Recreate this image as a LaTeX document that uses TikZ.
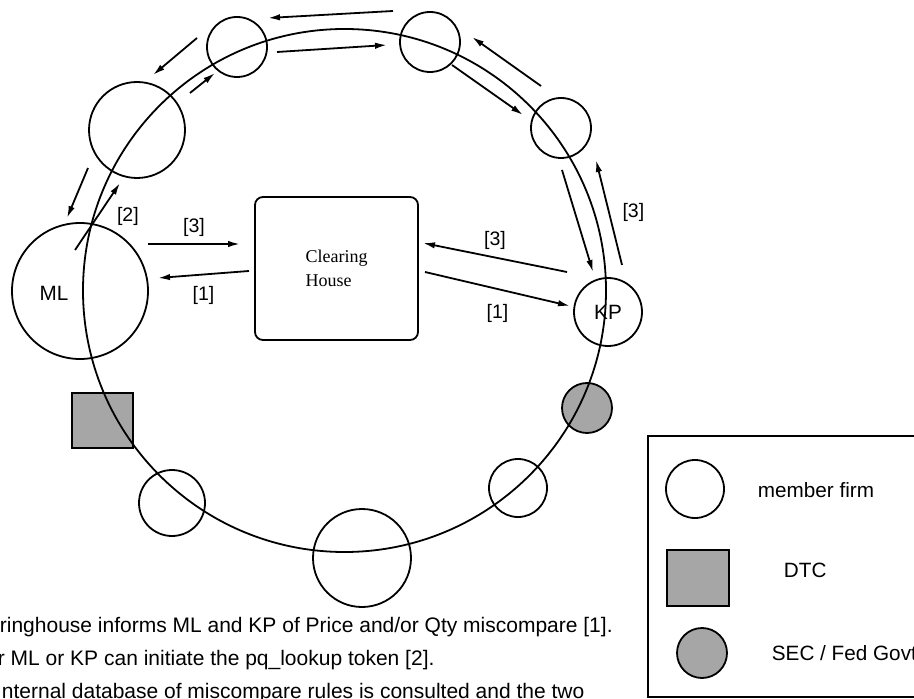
\documentclass[tikz,border=0pt]{standalone}
\usepackage{fontspec}
\setmainfont{Liberation Sans}
\newfontfamily\housefont{Liberation Serif}
\usetikzlibrary{arrows.meta, positioning, calc}

\begin{document}
\begin{tikzpicture}[x=0.5pt, y=-0.5pt, >={Latex[length=6pt, width=3.2pt]}, line width=0.9pt,
        firm/.style={circle, draw, inner sep=0pt},
        govt/.style={circle, draw, fill=black!35, inner sep=0pt},
        depot/.style={rectangle, draw, fill=black!35, inner sep=0pt},
        house/.style={rectangle, draw, rounded corners=4pt, minimum width=81.5pt, minimum height=71.5pt, align=left, font=\housefont\fontsize{9}{12}\selectfont},
        tag/.style={font=\fontsize{9.75}{11}\selectfont},
        note/.style={font=\fontsize{10.35}{12}\selectfont, anchor=base west, inner sep=0pt},
        line/.style={draw, ->}]
    \useasboundingbox (0,0) rectangle (914,699);
    \clip (0,0) rectangle (914,699);

    % shaded members first, the ring runs over them
    \node [depot, minimum width=30.5pt, minimum height=27.5pt] (dtc) at (102.5,420.5) {};
    \node [govt, minimum size=25pt] (sec) at (587,408) {};

    % the token ring
    \draw (344.5,290.5) circle [radius=130.75pt];

    % member firms
    \node [firm, minimum size=68pt, label={[font=\fontsize{10.35}{12}\selectfont, xshift=-13pt, yshift=-1pt]center:ML}] (ML) at (80,291) {};
    \node [firm, minimum size=34pt, font=\fontsize{10.35}{12}\selectfont] (KP) at (608,312) {KP};
    \node [firm, minimum size=30pt] (firmA) at (237,47) {};
    \node [firm, minimum size=30pt] (firmB) at (430,42) {};
    \node [firm, minimum size=48pt] (firmC) at (137,130) {};
    \node [firm, minimum size=30pt] (firmD) at (561,128) {};
    \node [firm, minimum size=29pt] (firmE) at (518,488) {};
    \node [firm, minimum size=49pt] (firmF) at (362,558) {};
    \node [firm, minimum size=33pt] (firmG) at (172,503) {};

    \node [house] (CH) at (336.5,268.5) {Clearing\\House};

    % arrow ends
    \coordinate (mlA) at (148,244);  \coordinate (chA) at (240,244);
    \coordinate (chB) at (249,271);  \coordinate (mlB) at (158,278);
    \coordinate (chC) at (425,272);  \coordinate (kpC) at (570,306);
    \coordinate (kpD) at (567,272);  \coordinate (chD) at (423,243);
    \coordinate (mlE) at (75,250);   \coordinate (upE) at (120,183);
    \coordinate (upF) at (190,93);   \coordinate (upG) at (215,73);
    \coordinate (topA) at (277,52);  \coordinate (topB) at (387,45);
    \coordinate (topC) at (393,11);  \coordinate (topD) at (268,18);
    \coordinate (dnA) at (197,38);   \coordinate (dnB) at (153,75);
    \coordinate (dnC) at (88,168);   \coordinate (dnD) at (67,218);
    \coordinate (rtA) at (541,86);   \coordinate (rtB) at (472,37);
    \coordinate (rtC) at (452,65);   \coordinate (rtD) at (523,115);
    \coordinate (rtE) at (562,170);  \coordinate (kpE) at (593,272);
    \coordinate (kpF) at (622,265);  \coordinate (rtF) at (596,160);

    \path [line] (mlA) -- node[tag, above] {[3]} (chA);
    \path [line] (chB) -- node[tag, below=2pt] {[1]} (mlB);
    \path [line] (chC) -- node[tag, below=4pt] {[1]} (kpC);
    \path [line] (kpD) -- node[tag, above] {[3]} (chD);
    \path [line] (mlE) -- node[tag, right=6pt] {[2]} (upE);
    \path [line] (upF) -- (upG);
    \path [line] (topA) -- (topB);
    \path [line] (topC) -- (topD);
    \path [line] (dnA) -- (dnB);
    \path [line] (dnC) -- (dnD);
    \path [line] (rtA) -- (rtB);
    \path [line] (rtC) -- (rtD);
    \path [line] (rtE) -- (kpE);
    \path [line] (kpF) -- node[tag, right=3pt] {[3]} (rtF);

    % notes below the ring
    \node [note, font=\fontsize{10.5}{12}\selectfont] (noteA) at (-1,632) {ringhouse informs ML and KP of Price and/or Qty miscompare [1].};
    \node [note, font=\fontsize{10.5}{12}\selectfont] (noteB) at (-3,665) {r ML or KP can initiate the pq\_lookup token [2].};
    \node [note, font=\fontsize{10.5}{12}\selectfont] (noteC) at (1,698) {nternal database of miscompare rules is consulted and the two};

    % legend
    \node [draw, anchor=north west, inner sep=0pt, minimum width=160pt, minimum height=130.5pt] (legend) at (647,435) {};
    \node [firm, minimum size=29pt] (keyfirm) at (695,489) {};
    \node [note] (keyfirmtext) at (757,497) {member firm};
    \node [depot, minimum width=31pt, minimum height=28pt] (keydtc) at (698,578) {};
    \node [note] (keydtctext) at (783,577) {DTC};
    \node [govt, minimum size=25pt] (keysec) at (702,653) {};
    \node [note] (keysectext) at (771,660) {SEC / Fed Govt};
\end{tikzpicture}
\end{document}
